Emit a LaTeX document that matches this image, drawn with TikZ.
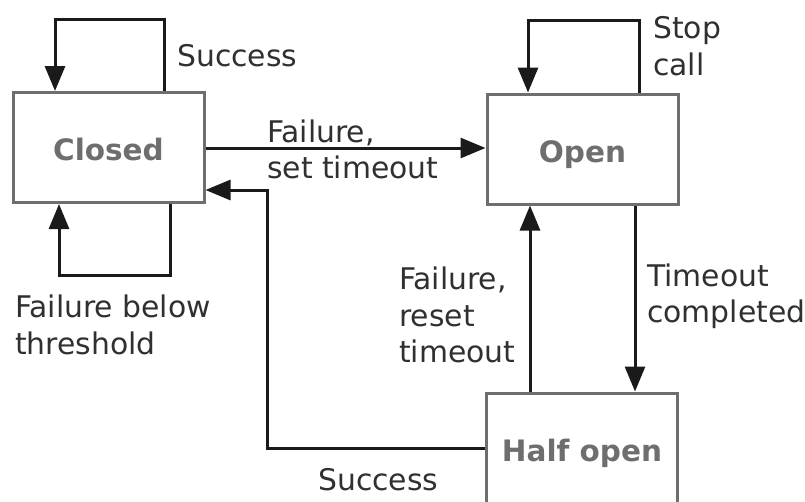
\documentclass[tikz,border=0pt]{standalone}
\usepackage{fontspec}
\setmainfont{DejaVu Sans}
\usetikzlibrary{arrows.meta}
\definecolor{boxgray}{HTML}{6E6E6E}
\definecolor{ink}{HTML}{1A1A1A}
\definecolor{labelink}{HTML}{303030}
\tikzset{
  statebox/.style={draw=boxgray, line width=3pt, fill=white, inner sep=0pt,
    minimum width=191pt, minimum height=110pt, text height=26pt, text depth=0pt,
    font=\fontsize{29.5}{36}\selectfont\bfseries, text=boxgray},
  arr/.style={draw=ink, line width=3pt, -{Triangle[length=25pt,width=20pt]}},
  lbl/.style={anchor=west, inner sep=0pt, align=left, text=labelink,
    font=\fontsize{29.8}{36.5}\selectfont}
}
\begin{document}
\begin{tikzpicture}[x=1pt,y=-1pt]
\useasboundingbox (0,0) rectangle (805,501);
\clip (0,0) rectangle (805,501);

% states
\node[statebox] (closed) at (108.5,147.5) {Closed};
\node[statebox] (open) at (582.5,149) {Open};
\node[statebox] (half) at (582,448) {Half open};

% self loops
\draw[arr] (closed.north -| 164,0) -- (164,19) -- (55,19) -- (closed.north -| 55,0);
\draw[arr] (closed.south -| 170,0) -- (170,275) -- (59,275) -- (closed.south -| 59,0);
\draw[arr] (open.north -| 639,0) -- (639,20) -- (528,20) -- (open.north -| 528,0);

% transitions
\draw[arr] (closed.east |- 0,148) -- (open.west |- 0,148);
\draw[arr] (open.south -| 635,0) -- (half.north -| 635,0);
\draw[arr] (half.north -| 530,0) -- (open.south -| 530,0);
\draw[arr] (half.west) -| (267,190) -- (closed.east |- 0,190);

% labels
\node[lbl] (lsucc) at (177,56) {Success};
\node[lbl] (lfail) at (267,149.5) {Failure,\\set timeout};
\node[lbl] (lstop) at (653,46) {Stop\\call};
\node[lbl] (lthr) at (15,325) {Failure below\\threshold};
\node[lbl] (lreset) at (399,315) {Failure,\\reset\\timeout};
\node[lbl] (ltime) at (647,296.5) {Timeout\\completed};
\node[lbl] (lsucc2) at (318,480) {Success};
\end{tikzpicture}
\end{document}
